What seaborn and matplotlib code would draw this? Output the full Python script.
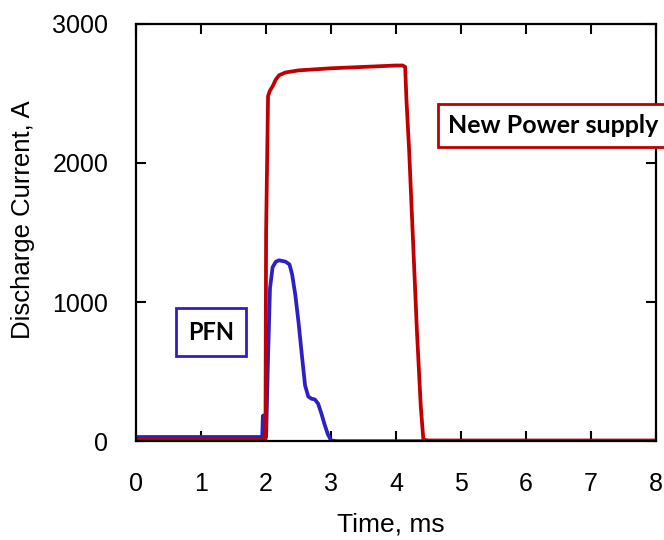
import numpy as np
import pandas as pd
import seaborn as sns
import matplotlib.pyplot as plt

# New power supply trace (time ms, current A)
new_t = [0.0, 0.5, 1.0, 1.5, 1.99, 2.0, 2.03, 2.06, 2.1, 2.15, 2.2, 2.3, 2.5, 3.0, 3.5, 4.0,
         4.1, 4.14, 4.16, 4.2, 4.26, 4.32, 4.38, 4.42, 4.5, 5.0, 6.0, 7.0, 8.0]
new_i = [10, 10, 10, 10, 12, 1500, 2480, 2520, 2550, 2600, 2630, 2650, 2665, 2680, 2690, 2700,
         2700, 2690, 2450, 2100, 1450, 800, 250, 10, 5, 5, 5, 5, 5]

# PFN trace
pfn_t = [0.0, 0.5, 1.0, 1.5, 1.94, 1.95, 1.96, 1.99, 2.0, 2.03, 2.06, 2.1, 2.15, 2.2, 2.3,
         2.36, 2.4, 2.45, 2.5, 2.55, 2.6, 2.65, 2.7, 2.75, 2.8, 2.85, 2.9, 2.95, 3.0, 3.1,
         4.0, 5.0, 6.0, 7.0, 8.0]
pfn_i = [30, 30, 30, 30, 30, 180, 185, 30, 30, 600, 1100, 1250, 1290, 1300, 1290,
         1270, 1200, 1050, 850, 620, 400, 320, 305, 300, 270, 200, 120, 50, 5, 0,
         0, 0, 0, 0, 0]

red = "#C00000"
blue = "#2E1FC4"

sns.set_style("ticks")
plt.rcParams['font.family'] = ['Liberation Sans', 'DejaVu Sans']
plt.rcParams['text.color'] = 'black'
plt.rcParams['axes.labelcolor'] = 'black'
plt.rcParams['xtick.color'] = 'black'
plt.rcParams['ytick.color'] = 'black'

fig = plt.figure(figsize=(6.64, 5.40), dpi=100)
ax = fig.add_axes([0.205, 0.183, 0.783, 0.773])

df_new = pd.DataFrame({"t": new_t, "i": new_i})
df_pfn = pd.DataFrame({"t": pfn_t, "i": pfn_i})
sns.lineplot(data=df_pfn, x="t", y="i", ax=ax, color=blue, lw=2.7, sort=False, estimator=None)
sns.lineplot(data=df_new, x="t", y="i", ax=ax, color=red, lw=2.7, sort=False, estimator=None)

ax.set_xlim(0, 8)
ax.set_ylim(0, 3000)
ax.set_xticks(range(0, 9))
ax.set_yticks([0, 1000, 2000, 3000])
ax.tick_params(direction='in', length=7, width=1.5, labelsize=18, top=True, right=True)
ax.tick_params(axis='x', pad=22)
ax.tick_params(axis='y', pad=20)
for s in ax.spines.values():
    s.set_linewidth(1.6)
    s.set_color('black')

ax.set_xlabel("Time, ms", fontsize=19)
ax.set_ylabel("Discharge Current, A", fontsize=18.5)
ax.xaxis.set_label_coords(0.49, -0.172)
ax.yaxis.set_label_coords(-0.195, 0.53)

ax.text(0.675, 0.767, "New Power supply", transform=fig.transFigure, fontsize=18,
        fontweight='bold', family=['Lato', 'DejaVu Sans'], va='center', ha='left',
        bbox=dict(boxstyle='square,pad=0.4', fc='white', ec=red, lw=2), clip_on=False)
ax.text(0.283, 0.385, "PFN", transform=fig.transFigure, fontsize=17,
        fontweight='bold', family=['Lato', 'DejaVu Sans'], va='center', ha='left',
        bbox=dict(boxstyle='square,pad=0.52', fc='white', ec=blue, lw=2), clip_on=False)

plt.savefig("out.png", dpi=100)
